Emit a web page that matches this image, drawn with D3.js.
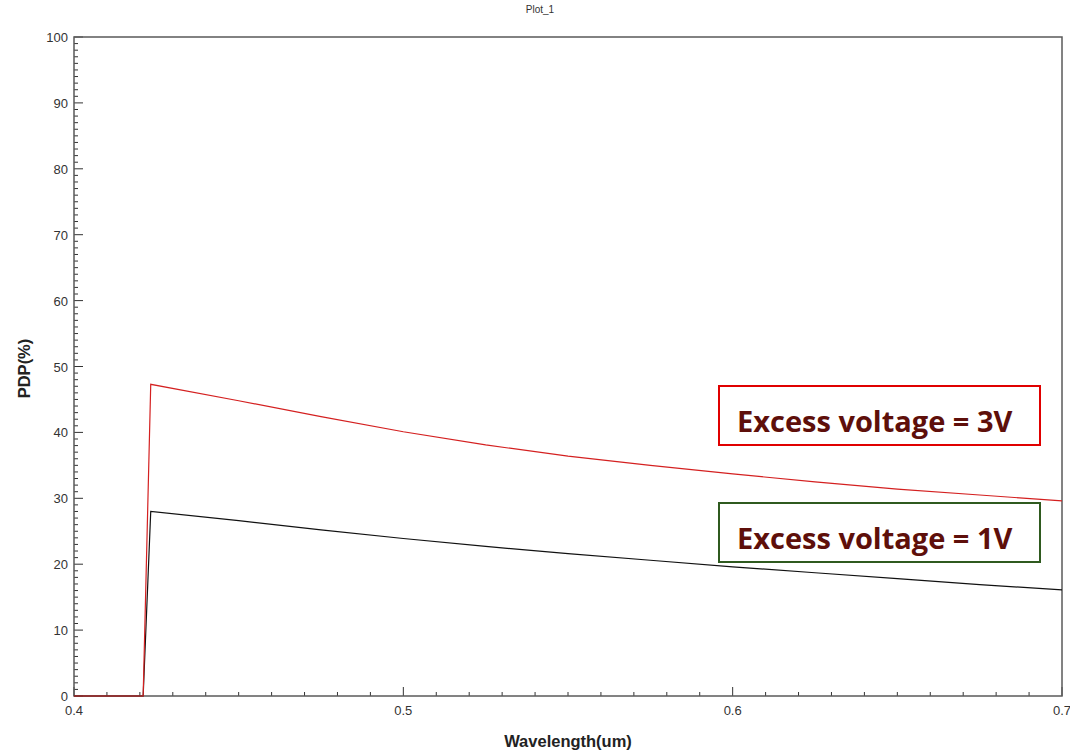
<!DOCTYPE html>
<html>
<head>
<meta charset="utf-8">
<script src="https://cdn.jsdelivr.net/npm/d3@7"></script>
<style>
    body { margin: 0; background: #fff; }
    .tick-label { font-family: "Liberation Sans", Arial, sans-serif; font-size: 13px; fill: #333; }
    .axis-title { font-family: "Liberation Sans", Arial, sans-serif; font-size: 16.5px; font-weight: bold; fill: #222; }
    .note { font-family: "Open Sans", sans-serif; font-size: 29px; font-weight: bold; fill: #5e0f0a; }
</style>
</head>
<body>
<svg id="chart" width="1070" height="751"></svg>
<script>
// wavelength (um) sample points
const wavelength = [0.4, 0.421, 0.4233, 0.45, 0.475, 0.5, 0.525, 0.55, 0.575, 0.6, 0.625, 0.65, 0.675, 0.7];
// PDP(%) at 3V and 1V excess voltage
const pdp3V = [0, 0, 47.3, 44.8, 42.4, 40.1, 38.1, 36.4, 35.0, 33.7, 32.5, 31.4, 30.5, 29.6];
const pdp1V = [0, 0, 28.0, 26.6, 25.2, 23.9, 22.7, 21.6, 20.6, 19.6, 18.7, 17.8, 16.9, 16.1];

const xTicks = [0.4, 0.5, 0.6, 0.7];
const yTicks = [0, 10, 20, 30, 40, 50, 60, 70, 80, 90, 100];
const notes = [
    { label: 'Excess voltage = 3V', color: '#e00000' },
    { label: 'Excess voltage = 1V', color: '#2f5a1f' }
];

const margin = { top: 37, right: 8, bottom: 55, left: 74 };
const width = 1070, height = 751;
const drawWidth = width - margin.left - margin.right;
const drawHeight = height - margin.top - margin.bottom;

const svg = d3.select('#chart');

const x = d3.scaleLinear().domain([0.4, 0.7]).range([margin.left, margin.left + drawWidth]);
const y = d3.scaleLinear().domain([0, 100]).range([margin.top + drawHeight, margin.top]);

// title
svg.append('text')
    .attr('x', 540).attr('y', 13)
    .attr('text-anchor', 'middle')
    .style('font-family', '"Liberation Sans", Arial, sans-serif')
    .style('font-size', '10px')
    .style('fill', '#333')
    .text('Plot_1');

// minor ticks (inside)
const g = svg.append('g');
d3.range(0, 101, 1).forEach(v => {
    let len = v % 10 === 0 ? 9 : 4;
    g.append('line')
        .attr('x1', x(0.4)).attr('x2', x(0.4) + len)
        .attr('y1', y(v)).attr('y2', y(v))
        .attr('stroke', '#333').attr('stroke-width', 1);
});
d3.range(0, 31, 1).forEach(i => {
    let v = 0.4 + i * 0.01;
    let len = i % 10 === 0 ? 9 : 4;
    g.append('line')
        .attr('x1', x(v)).attr('x2', x(v))
        .attr('y1', y(0)).attr('y2', y(0) - len)
        .attr('stroke', '#333').attr('stroke-width', 1);
});

// frame
svg.append('rect')
    .attr('x', x(0.4)).attr('y', y(100))
    .attr('width', drawWidth).attr('height', drawHeight)
    .attr('fill', 'none').attr('stroke', '#5a5a5a').attr('stroke-width', 1.5);

// tick labels
svg.selectAll('.ylab').data(yTicks).enter().append('text')
    .attr('class', 'tick-label')
    .attr('x', margin.left - 6)
    .attr('y', d => y(d) + 5)
    .attr('text-anchor', 'end')
    .text(d => d);

svg.selectAll('.xlab').data(xTicks).enter().append('text')
    .attr('class', 'tick-label')
    .attr('x', d => x(d))
    .attr('y', y(0) + 19)
    .attr('text-anchor', 'middle')
    .text(d => d);

// axis titles
svg.append('text')
    .attr('class', 'axis-title')
    .attr('transform', `translate(${x(0.55)}, 747)`)
    .attr('text-anchor', 'middle')
    .text('Wavelength(um)');

svg.append('text')
    .attr('class', 'axis-title')
    .attr('transform', `translate(30, ${y(50) + 2}) rotate(-90)`)
    .attr('text-anchor', 'middle')
    .text('PDP(%)');

// curves
const line = d3.line().x(d => x(d[0])).y(d => y(d[1]));
svg.append('path')
    .datum(d3.zip(wavelength, pdp1V))
    .attr('d', line)
    .attr('fill', 'none').attr('stroke', '#111').attr('stroke-width', 1.2);
svg.append('path')
    .datum(d3.zip(wavelength, pdp3V))
    .attr('d', line)
    .attr('fill', 'none').attr('stroke', '#d42020').attr('stroke-width', 1.2);

// annotation boxes
const boxTop = [386, 503];
notes.forEach((n, i) => {
    svg.append('rect')
        .attr('x', 719).attr('y', boxTop[i])
        .attr('width', 321).attr('height', 59)
        .attr('fill', '#fff').attr('stroke', n.color).attr('stroke-width', 2);
    svg.append('text')
        .attr('class', 'note')
        .attr('x', 737).attr('y', boxTop[i] + 46)
        .text(n.label);
});
</script>
</body>
</html>
